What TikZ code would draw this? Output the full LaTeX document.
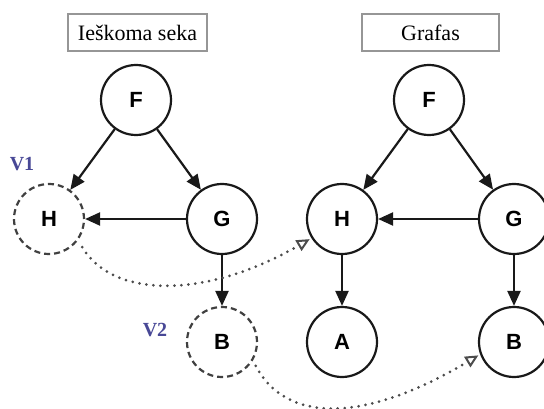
\documentclass[tikz,border=0pt]{standalone}
\usepackage{fontspec}
\setmainfont{Liberation Serif}
\newfontfamily\labfont{Liberation Sans}
\usetikzlibrary{arrows.meta}
\definecolor{vblue}{RGB}{72,72,150}
\definecolor{boxgray}{RGB}{150,150,150}
\tikzset{
  vert/.style={circle, draw=black!90, line width=2.2pt, fill=white, minimum size=70pt, inner sep=0pt, font=\labfont\bfseries\fontsize{22}{22}\selectfont},
  dvert/.style={vert, draw=black!75, dash pattern=on 6pt off 4pt},
  edge/.style={line width=2.2pt, draw=black!90, -{Triangle[length=15pt,width=13pt]}},
  match/.style={line width=3pt, draw=black!70, dash pattern=on 0pt off 7pt, line cap=round, -{Triangle[open,length=13pt,width=12pt,line width=2pt,line cap=butt]}},
  titlebox/.style={draw=boxgray, line width=1.2pt, fill=white, minimum height=37pt, inner sep=0pt, font=\fontsize{22}{22}\selectfont},
  vlab/.style={text=vblue, font=\bfseries\fontsize{20}{20}\selectfont}
}
\begin{document}
\begin{tikzpicture}[x=1pt,y=-1pt]
\useasboundingbox (0,0) rectangle (544,409);
\fill[white] (0,0) rectangle (544,409);
% titles
\node[titlebox, minimum width=139pt] (t1) at (137.5,32.5) {Ieškoma seka};
\node[titlebox, minimum width=137pt] (t2) at (430.5,32.5) {Grafas};
% left graph
\node[vert]  (lF) at (136,100) {F};
\node[dvert] (lH) at (49,219)  {H};
\node[vert]  (lG) at (222,219) {G};
\node[dvert] (lB) at (222,342) {B};
\node[vlab] (v1) at (22,164) {V1};
\node[vlab] (v2) at (155,330) {V2};
% right graph
\node[vert] (rF) at (429,100) {F};
\node[vert] (rH) at (342,219) {H};
\node[vert] (rG) at (514,219) {G};
\node[vert] (rA) at (342,342) {A};
\node[vert] (rB) at (514,342) {B};
% edges
\draw[edge] (lF) -- (lH);
\draw[edge] (lF) -- (lG);
\draw[edge] (lG) -- (lH);
\draw[edge] (lG) -- (lB);
\draw[edge] (rF) -- (rH);
\draw[edge] (rF) -- (rG);
\draw[edge] (rG) -- (rH);
\draw[edge] (rH) -- (rA);
\draw[edge] (rG) -- (rB);
% matching curves
\draw[match, shorten <=8pt, shorten >=2pt] (lH.-36) .. controls (112,298) and (205,300) .. (rH.-148);
\draw[match, shorten <=6pt, shorten >=2pt] (lB.-31) .. controls (285,422) and (362,425) .. (rB.-160);
\end{tikzpicture}
\end{document}
